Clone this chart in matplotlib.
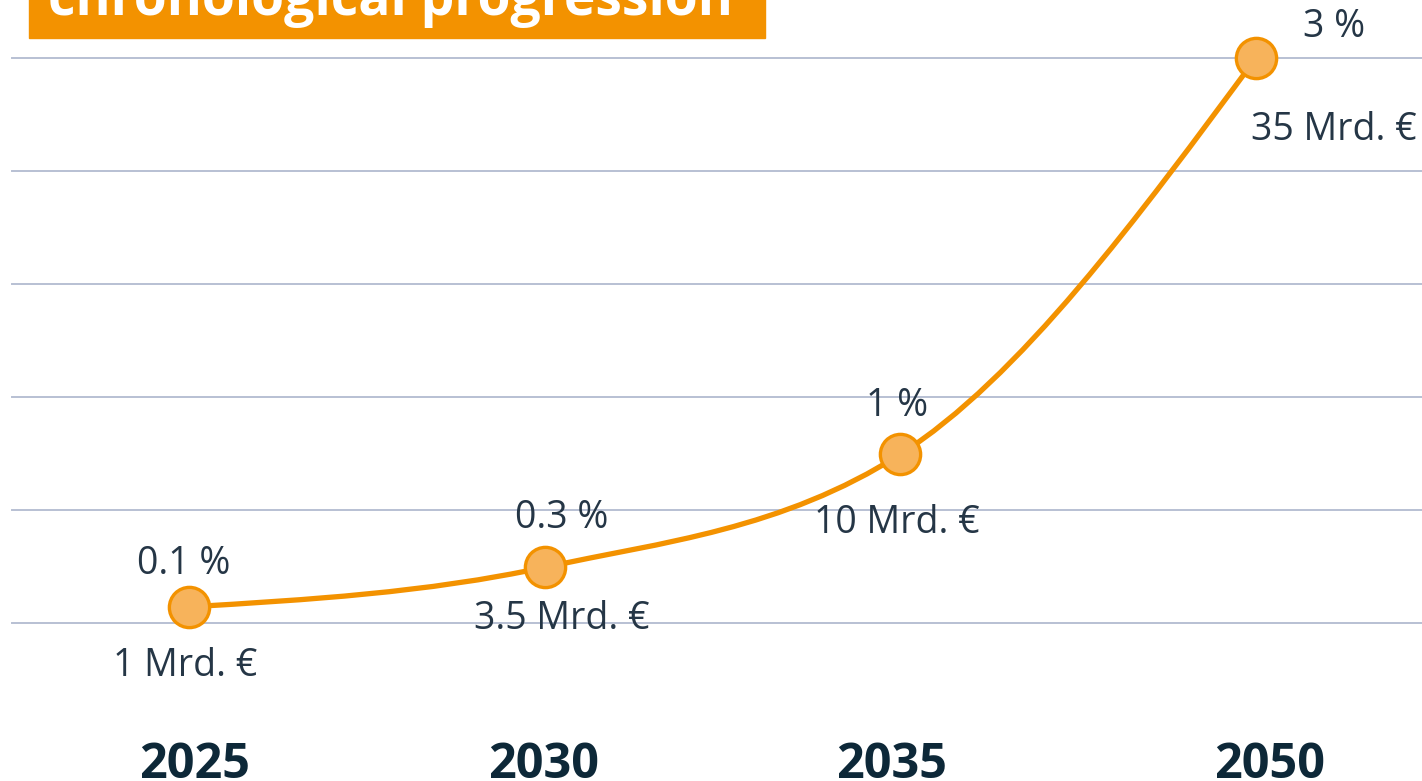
import matplotlib.pyplot as plt
from matplotlib.path import Path
from matplotlib.patches import PathPatch, Rectangle
from matplotlib.transforms import blended_transform_factory
import numpy as np

# data
years = ['2025', '2030', '2035', '2050']
volume = [1, 3.45, 10.45, 35]          # Mrd. €, as placed in the picture
share_labels = ['0.1 %', '0.3 %', '1 %', '3 %']
volume_labels = ['1 Mrd. €', '3.5 Mrd. €', '10 Mrd. €', '35 Mrd. €']
grid_ticks = [0, 7, 14, 21, 28, 35]
title = 'chronological progression'

ORANGE = '#F39200'
FACE = '#F7B35B'
TEXT = '#253646'
YEAR = '#0d2838'
GRID = '#b8c0d3'

plt.rcParams['font.family'] = ['Open Sans', 'DejaVu Sans']

W, H = 1422, 781
fig = plt.figure(figsize=(W / 100, H / 100), dpi=100)

# axes: x index 0 -> 189px, 3 -> 1256px; y 0 -> 623px, 35 -> 58px
px_x = (1256 - 189) / 3.0
left_px, right_px = 12, W
top_px, bot_px = 58, 623
ax = fig.add_axes([left_px / W, (H - bot_px) / H,
                   (right_px - left_px) / W, (bot_px - top_px) / H])
ax.set_xlim(-(189 - left_px) / px_x, 3 + (right_px - 1256) / px_x)
ax.set_ylim(0, 35)
ax.axis('off')

for t in grid_ticks:
    ax.axhline(t, color=GRID, lw=1.4, zorder=1, clip_on=False)

# smooth monotone curve (d3 monotoneX style) through the points
x = np.arange(len(years), dtype=float)
y = np.array(volume, dtype=float)
s = np.diff(y) / np.diff(x)
t = np.zeros_like(y)
for i in range(1, len(y) - 1):
    p = (s[i - 1] + s[i]) / 2
    t[i] = (np.sign(s[i - 1]) + np.sign(s[i])) * min(abs(s[i - 1]), abs(s[i]), 0.5 * abs(p))
t[0] = (3 * s[0] - t[1]) / 2
t[-1] = (3 * s[-1] - t[-2]) / 2
verts = [(x[0], y[0])]
codes = [Path.MOVETO]
for i in range(len(x) - 1):
    h = x[i + 1] - x[i]
    verts += [(x[i] + h / 3, y[i] + t[i] * h / 3),
              (x[i + 1] - h / 3, y[i + 1] - t[i + 1] * h / 3),
              (x[i + 1], y[i + 1])]
    codes += [Path.CURVE4] * 3
ax.add_patch(PathPatch(Path(verts, codes), fill=False, edgecolor=ORANGE,
                       lw=3.8, capstyle='round', zorder=2, clip_on=False))

ax.plot(x, y, 'o', ms=29, mfc=FACE, mec=ORANGE, mew=2.4, zorder=3, clip_on=False)

# label offsets in pixels (dx, dy to baseline)
pct_off = [(-5, 33), (17, 39), (-3, 38), (78, 21)]
val_off = [(-4, -69), (17, -62), (-4, -79), (78, -82)]
k = 72 / 100
for i in range(len(years)):
    ax.annotate(share_labels[i], (x[i], y[i]),
                xytext=(pct_off[i][0] * k, pct_off[i][1] * k), textcoords='offset points',
                ha='center', va='baseline', fontsize=27, color=TEXT, zorder=4)
    ax.annotate(volume_labels[i], (x[i], y[i]),
                xytext=(val_off[i][0] * k, val_off[i][1] * k), textcoords='offset points',
                ha='center', va='baseline', fontsize=27, color=TEXT, zorder=4)

# year labels under the chart
year_dx = [6, -1, -9, 14]
tr = blended_transform_factory(ax.transData, fig.transFigure)
for i, yr in enumerate(years):
    ax.annotate(yr, (x[i], (H - 778) / H), xycoords=tr,
                xytext=(year_dx[i] * k, 0), textcoords='offset points',
                ha='center', va='baseline', fontsize=35, fontweight='bold',
                color=YEAR, annotation_clip=False)

# title box (cut at the top)
fig.patches.append(Rectangle((29 / W, (H - 38) / H), (765 - 29) / W, 40 / H,
                             transform=fig.transFigure, color=ORANGE, zorder=0))
fig.text(48 / W, (H - 15) / H, title, ha='left', va='baseline',
         fontsize=38.5, fontweight='bold', color='white')

fig.savefig('out.png', dpi=100)
